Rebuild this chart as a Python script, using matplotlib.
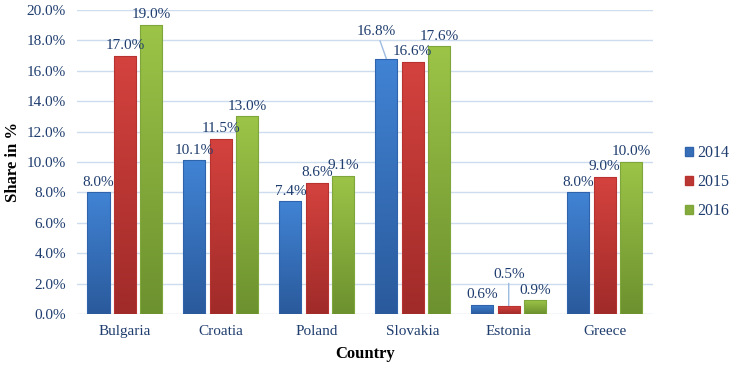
import numpy as np
import matplotlib
matplotlib.use('Agg')
import matplotlib.pyplot as plt
from matplotlib.colors import LinearSegmentedColormap
from matplotlib.patches import Patch

countries = ['Bulgaria', 'Croatia', 'Poland', 'Slovakia', 'Estonia', 'Greece']
years = ['2014', '2015', '2016']
share_2014 = [8.0, 10.1, 7.4, 16.8, 0.6, 8.0]
share_2015 = [17.0, 11.5, 8.6, 16.6, 0.5, 9.0]
share_2016 = [19.0, 13.0, 9.1, 17.6, 0.9, 10.0]
yticks = [0, 2, 4, 6, 8, 10, 12, 14, 16, 18, 20]

plt.rcParams['font.family'] = ['Liberation Serif', 'DejaVu Serif']
txt_col = '#1f3d6e'

# kolory: (góra, dół, krawędź)
kolory = [('#4183d4', '#2a5a9c', '#2f64ad'),
          ('#d4423e', '#a02b29', '#b83330'),
          ('#9cc447', '#6c912f', '#7ea63a')]

# etykiety przesunięte z linią prowadzącą: (kraj, seria) -> (dx, dy)
przesuniete = {('Slovakia', 0): (-0.1, 1.35), ('Estonia', 1): (0.0, 1.7)}

fig = plt.figure(figsize=(7.37, 3.66), dpi=100)
ax = fig.add_axes([0.1045, 0.142, 0.781, 0.831])

x = np.arange(len(countries))
szer = 0.23
krok = 0.276
serie = [share_2014, share_2015, share_2016]
uchwyty = []

for i, (vals, (gora, dol, kraw)) in enumerate(zip(serie, kolory)):
    cmap = LinearSegmentedColormap.from_list('g%d' % i, [dol, gora])
    grad = np.linspace(0, 1, 100).reshape(-1, 1)
    pos = x + (i - 1) * krok
    bars = ax.bar(pos, vals, width=szer, facecolor='none', edgecolor=kraw,
                  linewidth=0.8, zorder=4)
    for b, v in zip(bars, vals):
        x0 = b.get_x()
        im = ax.imshow(grad, cmap=cmap, aspect='auto', origin='lower',
                       extent=[x0, x0 + szer, 0, v], zorder=3)
        im.set_clip_path(b)
    uchwyty.append(Patch(facecolor=cmap(0.5), edgecolor=kraw, label=years[i]))
    for k, (p, v) in enumerate(zip(pos, vals)):
        if (countries[k], i) in przesuniete:
            dx, dy = przesuniete[(countries[k], i)]
            ax.annotate('%.1f%%' % v, xy=(p, v), xytext=(p + dx, v + dy),
                        ha='center', va='bottom', fontsize=11, color=txt_col,
                        arrowprops=dict(arrowstyle='-', color='#9dbbe0', lw=1,
                                        shrinkA=0, shrinkB=0))
        else:
            ax.text(p, v + 0.25, '%.1f%%' % v, ha='center', va='bottom',
                    fontsize=11, color=txt_col, zorder=5)

ax.set_xlim(-0.5, len(countries) - 0.5)
ax.set_ylim(0, 20)
ax.set_yticks(yticks)
ax.set_yticklabels(['%.1f%%' % t for t in yticks])
ax.set_xticks(x)
ax.set_xticklabels(countries)
ax.tick_params(length=0, labelsize=11, labelcolor=txt_col, pad=8)
ax.grid(axis='y', color='#cddcee', linewidth=1, zorder=0)
ax.set_axisbelow(True)
for s in ax.spines.values():
    s.set_visible(False)

ax.set_xlabel('Country', fontsize=12, fontweight='bold', labelpad=6)
ax.set_ylabel('Share in %', fontsize=12, fontweight='bold', labelpad=4)

leg = ax.legend(handles=uchwyty, loc='center left', bbox_to_anchor=(1.045, 0.434),
                borderaxespad=0, frameon=False, fontsize=11.5, handlelength=0.5,
                handleheight=0.5, labelspacing=0.8, handletextpad=0.3)
for t in leg.get_texts():
    t.set_color(txt_col)

fig.savefig('out.png', dpi=100)
